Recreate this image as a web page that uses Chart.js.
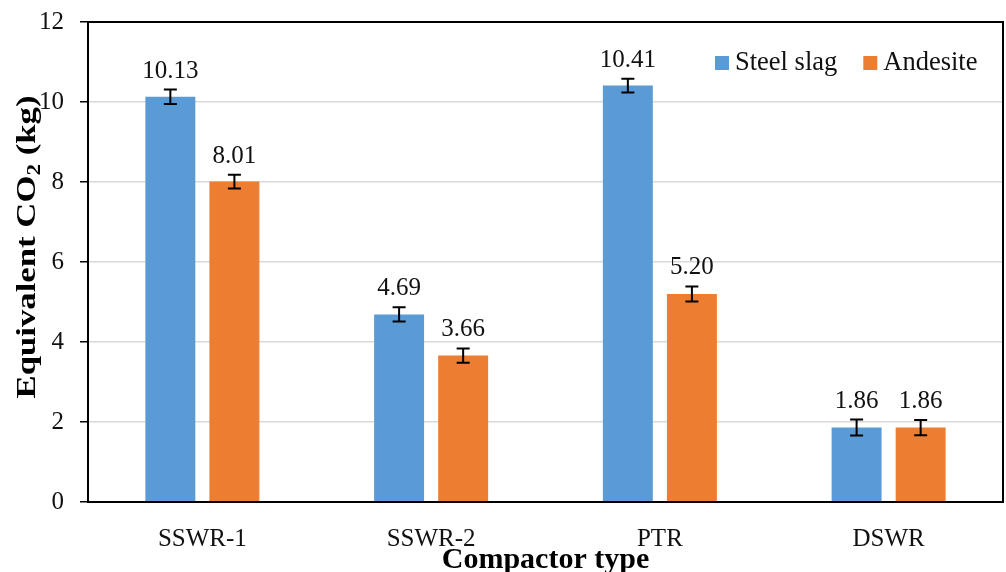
<!DOCTYPE html>
<html>
<head>
<meta charset="utf-8">
<script src="https://cdn.jsdelivr.net/npm/chart.js@4.4.0/dist/chart.umd.min.js"></script>
<style>
  html, body { margin: 0; padding: 0; background: #fff; }
  #wrap { width: 1006px; height: 572px; }
</style>
</head>
<body>
<div id="wrap"><canvas id="chart"></canvas></div>
<script>
const categories = ["SSWR-1", "SSWR-2", "PTR", "DSWR"];
const steelSlag = [10.13, 4.69, 10.41, 1.86];
const andesite = [8.01, 3.66, 5.2, 1.86];
const steelSlagErr = [0.18, 0.18, 0.17, 0.2];
const andesiteErr = [0.17, 0.18, 0.19, 0.19];
const yTicks = [0, 2, 4, 6, 8, 10, 12];

const SERIF = "'Liberation Serif', 'Times New Roman', serif";
const errors = [steelSlagErr, andesiteErr];

// error bars + value labels on top of each bar
const barExtras = {
  id: "barExtras",
  afterDatasetsDraw(chart) {
    const ctx = chart.ctx;
    const y = chart.scales.y;
    chart.data.datasets.forEach((ds, i) => {
      const meta = chart.getDatasetMeta(i);
      meta.data.forEach((bar, j) => {
        const v = ds.data[j];
        const e = errors[i][j];
        const top = y.getPixelForValue(v + e);
        const bot = y.getPixelForValue(v - e);
        ctx.save();
        ctx.strokeStyle = "#000";
        ctx.lineWidth = 2;
        ctx.beginPath();
        ctx.moveTo(bar.x, top);
        ctx.lineTo(bar.x, bot);
        ctx.moveTo(bar.x - 6.5, top);
        ctx.lineTo(bar.x + 6.5, top);
        ctx.moveTo(bar.x - 6.5, bot);
        ctx.lineTo(bar.x + 6.5, bot);
        ctx.stroke();
        ctx.fillStyle = "#111";
        ctx.font = "25px " + SERIF;
        ctx.textAlign = "center";
        ctx.textBaseline = "alphabetic";
        ctx.fillText(v.toFixed(2), bar.x, top - 12);
        ctx.restore();
      });
    });
  },
};

// box around plot, y title with subscript, legend inside the plot
const frame = {
  id: "frame",
  afterDraw(chart) {
    const ctx = chart.ctx;
    const a = chart.chartArea;
    ctx.save();
    ctx.strokeStyle = "#000";
    ctx.lineWidth = 2;
    ctx.strokeRect(a.left, a.top, a.right - a.left, a.bottom - a.top);

    // y title (stretched along its length like the original)
    ctx.translate(28, 247);
    ctx.rotate(-Math.PI / 2);
    ctx.fillStyle = "#000";
    ctx.textBaseline = "middle";
    const big = "bold 27px " + SERIF;
    const small = "bold 18px " + SERIF;
    const parts = [
      ["Equivalent CO", big, 0],
      ["2", small, 7],
      [" (kg)", big, 0],
    ];
    let w = 0;
    parts.forEach((p) => { ctx.font = p[1]; w += ctx.measureText(p[0]).width; });
    ctx.scale(303 / w, 1);
    let x = -w / 2;
    ctx.textAlign = "left";
    parts.forEach((p) => {
      ctx.font = p[1];
      ctx.fillText(p[0], x, p[2]);
      x += ctx.measureText(p[0]).width;
    });
    ctx.restore();

    // legend
    ctx.save();
    ctx.font = "26.5px " + SERIF;
    ctx.textBaseline = "middle";
    ctx.textAlign = "left";
    let lx = 715;
    const ly = 63;
    chart.data.datasets.forEach((ds) => {
      ctx.fillStyle = ds.backgroundColor;
      ctx.fillRect(lx, ly - 7, 14, 14);
      ctx.fillStyle = "#111";
      ctx.fillText(ds.label, lx + 20, ly);
      lx += 20 + ctx.measureText(ds.label).width + 26;
    });
    ctx.restore();
  },
};

new Chart(document.getElementById("chart"), {
  type: "bar",
  data: {
    labels: categories,
    datasets: [
      { label: "Steel slag", data: steelSlag, backgroundColor: "#5B9BD5" },
      { label: "Andesite", data: andesite, backgroundColor: "#ED7D31" },
    ],
  },
  options: {
    responsive: true,
    maintainAspectRatio: false,
    animation: false,
    devicePixelRatio: 1,
    layout: { padding: { top: 22, right: 3, left: 0, bottom: 0 } },
    categoryPercentage: 0.56,
    barPercentage: 0.78,
    plugins: {
      legend: { display: false },
      tooltip: { enabled: false },
    },
    scales: {
      x: {
        grid: { display: false, drawTicks: false },
        border: { color: "#000", width: 2 },
        ticks: {
          color: "#111",
          padding: 22,
          font: { family: SERIF, size: 25 },
        },
        title: {
          display: true,
          text: "Compactor type",
          color: "#000",
          font: { family: SERIF, size: 30, weight: "bold", lineHeight: 1 },
          padding: { top: 0, bottom: -3 },
        },
        afterFit(scale) {
          scale.height = 70;
          scale.paddingLeft = 0;
          scale.paddingRight = 0;
        },
      },
      y: {
        min: 0,
        max: 12,
        afterBuildTicks(scale) { scale.ticks = yTicks.map((v) => ({ value: v })); },
        grid: { color: "#D9D9D9", lineWidth: 1.5, tickColor: "#000", tickLength: 8 },
        border: { color: "#000", width: 2 },
        ticks: {
          color: "#111",
          padding: 16,
          font: { family: SERIF, size: 25 },
        },
        afterFit(scale) {
          scale.width = 88;
          scale.paddingTop = 0;
          scale.paddingBottom = 0;
        },
      },
    },
  },
  plugins: [barExtras, frame],
});
</script>
</body>
</html>
